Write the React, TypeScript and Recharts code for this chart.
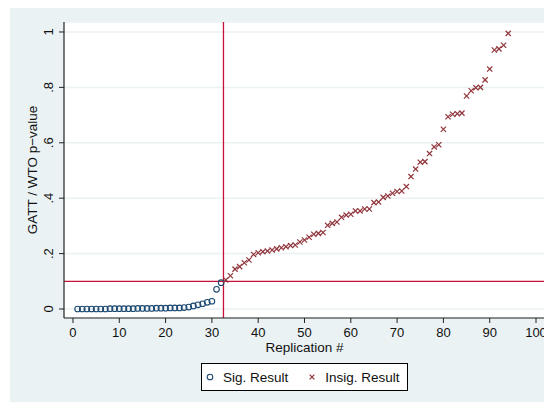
import React from 'react';
import { ScatterChart, Scatter, XAxis, YAxis, CartesianGrid, ReferenceLine } from 'recharts';

const sigX = [1,2,3,4,5,6,7,8,9,10,11,12,13,14,15,16,17,18,19,20,21,22,23,24,25,26,27,28,29,30,31,32];
const sigY = [0.000,0.000,0.000,0.000,0.000,0.000,0.000,0.001,0.001,0.001,0.001,0.001,0.001,0.002,0.002,0.002,0.002,0.003,0.003,0.003,0.004,0.004,0.004,0.005,0.007,0.011,0.015,0.019,0.024,0.028,0.071,0.095];

const insigX = [33,34,35,36,37,38,39,40,41,42,43,44,45,46,47,48,49,50,51,52,53,54,55,56,57,58,59,60,61,62,63,64,65,66,67,68,69,70,71,72,73,74,75,76,77,78,79,80,81,82,83,84,85,86,87,88,89,90,91,92,93,94];
const insigY = [0.105,0.12,0.144,0.153,0.167,0.177,0.197,0.203,0.207,0.209,0.213,0.217,0.221,0.225,0.229,0.231,0.242,0.249,0.259,0.27,0.273,0.276,0.302,0.309,0.314,0.331,0.339,0.342,0.354,0.354,0.361,0.361,0.384,0.386,0.403,0.408,0.418,0.424,0.426,0.442,0.478,0.505,0.53,0.532,0.561,0.585,0.593,0.649,0.694,0.703,0.705,0.707,0.769,0.788,0.799,0.8,0.827,0.866,0.935,0.939,0.952,0.995];

const xTicks = [0,10,20,30,40,50,60,70,80,90,100];
const yTicks = [0,0.2,0.4,0.6,0.8,1];
const yTickLabels = ['0','.2','.4','.6','.8','1'];
const legendLabels = ['Sig. Result', 'Insig. Result'];

const sigData = sigX.map((x, i) => ({ x, y: sigY[i] }));
const insigData = insigX.map((x, i) => ({ x, y: insigY[i] }));

const NAVY = '#1A476F';
const MAROON = '#90353B';
const RED = '#C8103A';
const BG = '#EAF2F3';
const FONT = 'Liberation Sans, Arial, sans-serif';

const CircleShape = (props: any) => {
  const { cx, cy } = props;
  if (cx == null || cy == null) return null;
  return <circle cx={cx} cy={cy} r={2.8} fill="none" stroke={NAVY} strokeWidth={1.1} />;
};

const CrossShape = (props: any) => {
  const { cx, cy } = props;
  if (cx == null || cy == null) return null;
  const s = 2.6;
  return (
    <g stroke={MAROON} strokeWidth={1.2}>
      <line x1={cx - s} y1={cy - s} x2={cx + s} y2={cy + s} />
      <line x1={cx - s} y1={cy + s} x2={cx + s} y2={cy - s} />
    </g>
  );
};

const YTick = (props: any) => {
  const { x, y, payload } = props;
  const idx = yTicks.indexOf(payload.value);
  const label = idx >= 0 ? yTickLabels[idx] : String(payload.value);
  const tx = x - 4;
  return (
    <text x={tx} y={y} transform={`rotate(-90, ${tx}, ${y})`} textAnchor="middle" fontSize={13} fontFamily={FONT} fill="#111">
      {label}
    </text>
  );
};

const LegendBox = () => (
  <div style={{ position: 'absolute', left: 191, top: 355, boxSizing: 'border-box', width: 207, height: 28, background: '#fff', border: '1px solid #000', display: 'flex', alignItems: 'center', fontFamily: FONT, fontSize: 13.5, color: '#111' }}>
    <svg width={14} height={12} style={{ marginLeft: 1 }}>
      <circle cx={7} cy={6} r={2.8} fill="none" stroke={NAVY} strokeWidth={1.1} />
    </svg>
    <span style={{ marginLeft: 6 }}>{legendLabels[0]}</span>
    <svg width={14} height={12} style={{ marginLeft: 17 }}>
      <g stroke={MAROON} strokeWidth={1.2}>
        <line x1={4.6} y1={3.6} x2={9.4} y2={8.4} />
        <line x1={4.6} y1={8.4} x2={9.4} y2={3.6} />
      </g>
    </svg>
    <span style={{ marginLeft: 6 }}>{legendLabels[1]}</span>
  </div>
);

export default function App() {
  return (
    <div style={{ marginLeft: 2, width: 542, height: 394, background: BG, position: 'relative' }}>
      <ScatterChart width={542} height={394} margin={{ top: 14, right: 7, bottom: 44, left: 0 }}>
        <CartesianGrid vertical={false} horizontal={true} stroke={BG} strokeWidth={1.5} fill="#ffffff" fillOpacity={1} />
        <XAxis
          type="number"
          dataKey="x"
          domain={[-1.94, 101.94]}
          ticks={xTicks}
          allowDataOverflow
          height={40}
          tickSize={5}
          tickMargin={5}
          stroke="#222"
          axisLine={{ stroke: '#222', strokeWidth: 1.2 }}
          tickLine={{ stroke: '#222', strokeWidth: 1 }}
          tick={{ fontSize: 13, fontFamily: FONT, fill: '#111' }}
          label={{ value: 'Replication #', position: 'insideBottom', offset: 6, fontSize: 13.5, fontFamily: FONT, fill: '#111' }}
        />
        <YAxis
          type="number"
          dataKey="y"
          domain={[-0.0325, 1.036]}
          ticks={yTicks}
          allowDataOverflow
          width={54}
          tickSize={5}
          tickMargin={2}
          axisLine={{ stroke: '#222', strokeWidth: 1.2 }}
          tickLine={{ stroke: '#222', strokeWidth: 1 }}
          tick={<YTick />}
          label={{
            content: () => (
              <text x={26.7} y={162} transform="rotate(-90, 26.7, 162)" textAnchor="middle" fontSize={13.5} fontFamily={FONT} fill="#111">
                GATT / WTO p−value
              </text>
            ),
          }}
        />
        <ReferenceLine x={32.5} stroke={RED} strokeWidth={1.3} />
        <ReferenceLine y={0.1} stroke={RED} strokeWidth={1.3} />
        <Scatter name="Sig. Result" data={sigData} shape={<CircleShape />} isAnimationActive={false} />
        <Scatter name="Insig. Result" data={insigData} shape={<CrossShape />} isAnimationActive={false} />
      </ScatterChart>
      <LegendBox />
    </div>
  );
}
